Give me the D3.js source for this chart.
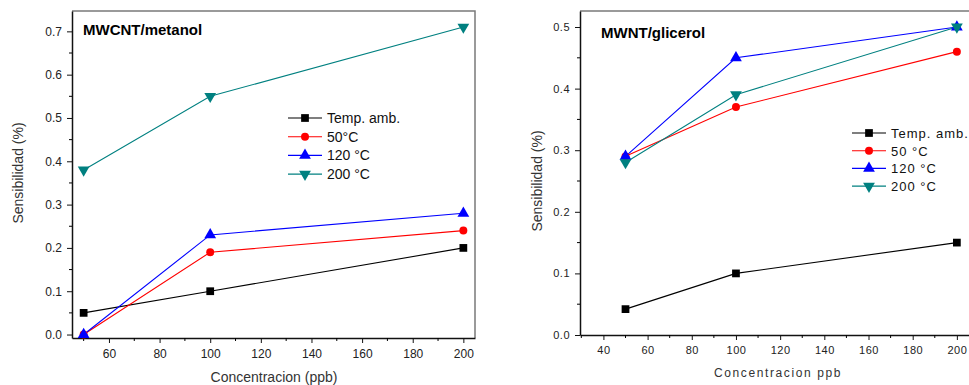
<!DOCTYPE html>
<html><head><meta charset="utf-8">
<script src="https://cdn.jsdelivr.net/npm/d3@7"></script>
<style>body{margin:0;background:#fff}svg{display:block;font-family:"Liberation Sans",Arial,sans-serif}</style>
</head><body><svg id="c" width="969" height="385"></svg>
<script>
const concentrations = [50, 100, 200];
const seriesNames = ["Temp. amb.", "50°C", "120 °C", "200 °C"];
const seriesNamesRight = ["Temp. amb.", "50 °C", "120 °C", "200 °C"];
const seriesColors = ["#000000", "#ff0000", "#0000ff", "#008080"];
const seriesShapes = ["square", "circle", "triangle", "triangleDown"];
// MWCNT/metanol
const metanolTempAmb = [0.05, 0.10, 0.20];
const metanol50 = [0.00, 0.19, 0.24];
const metanol120 = [0.00, 0.23, 0.28];
const metanol200 = [0.38, 0.55, 0.71];
// MWNT/glicerol
const glicerolTempAmb = [0.042, 0.10, 0.15];
const glicerol50 = [0.29, 0.37, 0.46];
const glicerol120 = [0.29, 0.45, 0.50];
const glicerol200 = [0.28, 0.39, 0.50];
const leftXTicks = [60, 80, 100, 120, 140, 160, 180, 200];
const leftYTicks = [0.0, 0.1, 0.2, 0.3, 0.4, 0.5, 0.6, 0.7];
const rightXTicks = [40, 60, 80, 100, 120, 140, 160, 180, 200];
const rightYTicks = [0.0, 0.1, 0.2, 0.3, 0.4, 0.5];

const svg = d3.select("#c");

function symbolFor(shape, size) {
  const t = {square: d3.symbolSquare, circle: d3.symbolCircle, triangle: d3.symbolTriangle, triangleDown: d3.symbolTriangle}[shape];
  return d3.symbol().type(t).size(size)();
}

function panel(cfg) {
  const g = svg.append("g");
  const x = d3.scaleLinear().domain(cfg.xDomain).range([cfg.left, cfg.right]);
  const y = d3.scaleLinear().domain(cfg.yDomain).range([cfg.bottom, cfg.top]);
  // frame top/right grey
  g.append("path").attr("d", `M${cfg.left},${cfg.top}H${cfg.right}V${cfg.bottom}`)
    .attr("fill", "none").attr("stroke", "#7a7a7a").attr("stroke-width", 1.5);
  // x axis
  const xa = g.append("g").attr("transform", `translate(0,${cfg.bottom})`)
    .call(d3.axisBottom(x).tickValues(cfg.xTicks).tickSize(5).tickSizeOuter(0).tickPadding(6).tickFormat(d3.format("d")));
  const xminor = d3.range(cfg.xTicks[0] - 10, cfg.xDomain[1], 20).filter(v => v > cfg.xDomain[0]);
  xa.selectAll(".minor").data(xminor).enter().append("line").attr("class", "minor")
    .attr("x1", d => x(d)).attr("x2", d => x(d)).attr("y1", 0).attr("y2", 3).attr("stroke", "#000");
  const ya = g.append("g").attr("transform", `translate(${cfg.left},0)`)
    .call(d3.axisLeft(y).tickValues(cfg.yTicks).tickSize(5).tickSizeOuter(0).tickPadding(5).tickFormat(d3.format(".1f")));
  const yminor = cfg.yTicks.map(v => v + 0.05).filter(v => v < cfg.yDomain[1]);
  ya.selectAll(".minor").data(yminor).enter().append("line").attr("class", "minor")
    .attr("y1", d => y(d)).attr("y2", d => y(d)).attr("x1", 0).attr("x2", -3).attr("stroke", "#000");
  [xa, ya].forEach(a => {
    a.select(".domain").attr("stroke", "#111").attr("stroke-width", 1.5);
    a.selectAll(".tick line").attr("stroke", "#111");
    a.selectAll("text").attr("font-family", "Liberation Sans, Arial, sans-serif")
      .attr("font-size", cfg.tickFont).attr("fill", "#222").style("letter-spacing", cfg.tickSpacing);
  });
  // series
  const line = d3.line().x((d, i) => x(concentrations[i])).y(d => y(d));
  cfg.series.forEach((vals, k) => {
    g.append("path").datum(vals).attr("d", line).attr("fill", "none")
      .attr("stroke", seriesColors[k]).attr("stroke-width", 1.1);
  });
  cfg.series.forEach((vals, k) => {
    g.selectAll(null).data(vals).enter().append("path")
      .attr("d", symbolFor(seriesShapes[k], seriesShapes[k] === "circle" ? 50 : 60))
      .attr("transform", (d, i) => `translate(${x(concentrations[i])},${y(d)})` + (seriesShapes[k] === "triangleDown" ? " rotate(180)" : ""))
      .attr("fill", seriesColors[k]);
  });
  // title
  g.append("text").attr("x", cfg.titleX).attr("y", cfg.titleY).attr("font-weight", "bold")
    .attr("font-size", 15).attr("fill", "#000").text(cfg.title);
  // legend
  cfg.names.forEach((n, k) => {
    const yy = cfg.legY + k * cfg.legStep;
    g.append("line").attr("x1", cfg.legX).attr("x2", cfg.legX + 34).attr("y1", yy).attr("y2", yy)
      .attr("stroke", seriesColors[k]).attr("stroke-width", 1.1);
    g.append("path").attr("d", symbolFor(seriesShapes[k], seriesShapes[k] === "circle" ? 50 : 60))
      .attr("transform", `translate(${cfg.legX + 17},${yy})` + (seriesShapes[k] === "triangleDown" ? " rotate(180)" : ""))
      .attr("fill", seriesColors[k]);
    g.append("text").attr("x", cfg.legX + 39).attr("y", yy + 5).attr("font-size", cfg.legFont)
      .style("letter-spacing", cfg.legSpacing).attr("fill", "#111").text(n);
  });
  // axis labels
  g.append("text").attr("x", cfg.xLabelX).attr("y", cfg.xLabelY).attr("text-anchor", "middle")
    .attr("font-size", cfg.labelFont).style("letter-spacing", cfg.labelSpacing).attr("fill", "#333").text(cfg.xLabel);
  g.append("text").attr("transform", `translate(${cfg.yLabelX},${cfg.yLabelY}) rotate(-90)`).attr("text-anchor", "middle")
    .attr("font-size", 14).attr("fill", "#333").text("Sensibilidad (%)");
}

panel({
  left: 72, right: 475, top: 11, bottom: 338,
  xDomain: [45.4, 204.6], yDomain: [-0.008, 0.747],
  xTicks: leftXTicks, yTicks: leftYTicks, tickFont: 12, tickSpacing: "0px",
  series: [metanolTempAmb, metanol50, metanol120, metanol200],
  names: seriesNames,
  title: "MWCNT/metanol", titleX: 83, titleY: 35,
  legX: 288, legY: 118, legStep: 18.7, legFont: 14, legSpacing: "0px",
  xLabel: "Concentracion (ppb)", xLabelX: 274, xLabelY: 382, labelFont: 14, labelSpacing: "0px",
  yLabelX: 23, yLabelY: 173
});
panel({
  left: 580, right: 973, top: 11, bottom: 335,
  xDomain: [29.4, 207.3], yDomain: [0, 0.526],
  xTicks: rightXTicks, yTicks: rightYTicks, tickFont: 11, tickSpacing: "0.5px",
  series: [glicerolTempAmb, glicerol50, glicerol120, glicerol200],
  names: seriesNamesRight,
  title: "MWNT/glicerol", titleX: 601, titleY: 38,
  legX: 852, legY: 133, legStep: 17.7, legFont: 13, legSpacing: "1px",
  xLabel: "Concentracion ppb", xLabelX: 778, xLabelY: 377, labelFont: 12, labelSpacing: "1.6px",
  yLabelX: 542, yLabelY: 181
});
</script></body></html>
